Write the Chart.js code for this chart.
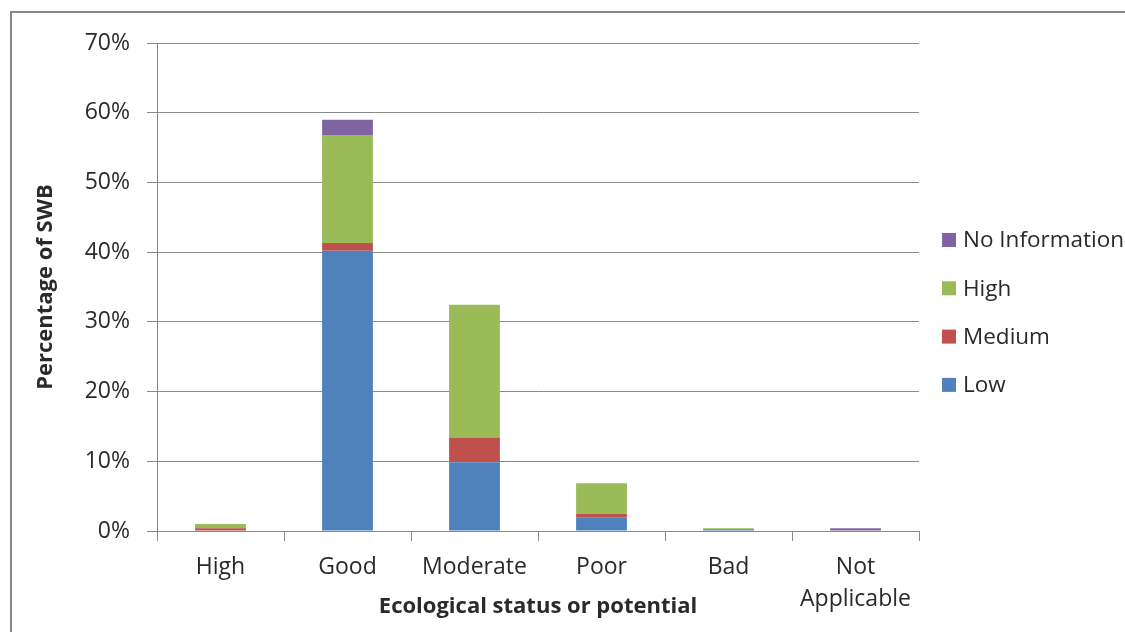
<!DOCTYPE html>
<html>
<head>
<meta charset="utf-8">
<script src="https://cdn.jsdelivr.net/npm/chart.js@4/dist/chart.umd.min.js"></script>
<style>
  html, body { margin: 0; padding: 0; background: #fff; overflow: hidden; }
  #wrap { position: relative; width: 1125px; height: 632px; overflow: hidden; }
  #frame { position: absolute; left: 10px; top: 11px; width: 1300px; height: 800px;
           border: 2px solid #888; box-sizing: border-box; }
  #c { position: absolute; left: 0; top: 0; }
</style>
</head>
<body>
<div id="wrap">
  <div id="frame"></div>
  <canvas id="c" width="1125" height="632"></canvas>
</div>
<script>
// Ecological status of surface water bodies, split by confidence level
const categories = ['High', 'Good', 'Moderate', 'Poor', 'Bad', ['Not', 'Applicable']];
const lowConf    = [0.0, 40.2, 9.85, 1.9, 0.25, 0.0];
const mediumConf = [0.4, 1.1, 3.55, 0.55, 0.0, 0.0];
const highConf   = [0.6, 15.5, 19.05, 4.4, 0.15, 0.0];
const noInfo     = [0.0, 2.2, 0.0, 0.0, 0.0, 0.4];
const yTicks     = [0, 10, 20, 30, 40, 50, 60, 70];

const FONT = '"Open Sans", Lato, "Liberation Sans", sans-serif';
const TEXT = '#2a2a2a';
const GRID = '#8a8a8a';

// Legend drawn at the right, listing series top-down in stack order
const sideLegend = {
  id: 'sideLegend',
  afterDraw(chart) {
    const ctx = chart.ctx;
    const ds = chart.data.datasets.slice().reverse();
    ctx.save();
    ctx.font = '22.5px ' + FONT;
    ctx.textBaseline = 'middle';
    ctx.textAlign = 'left';
    ds.forEach((d, i) => {
      const y = 240 + i * 48.3;
      ctx.fillStyle = d.backgroundColor;
      ctx.fillRect(942, y - 7, 14, 14);
      ctx.fillStyle = TEXT;
      ctx.fillText(d.label, 963, y + 1);
    });
    ctx.restore();
  }
};

new Chart(document.getElementById('c'), {
  type: 'bar',
  data: {
    labels: categories,
    datasets: [
      { label: 'Low', data: lowConf, backgroundColor: '#4F81BD' },
      { label: 'Medium', data: mediumConf, backgroundColor: '#C0504D' },
      { label: 'High', data: highConf, backgroundColor: '#9BBB59' },
      { label: 'No Information', data: noInfo, backgroundColor: '#8064A2' }
    ]
  },
  options: {
    responsive: false,
    animation: false,
    events: [],
    datasets: { bar: { categoryPercentage: 1.0, barPercentage: 0.4, borderWidth: 0 } },
    layout: { padding: { left: 22, right: 206, top: 43, bottom: 0 } },
    plugins: { legend: { display: false }, tooltip: { enabled: false } },
    scales: {
      x: {
        stacked: true,
        afterFit(scale) { scale.height = 101; },
        grid: { display: true, drawOnChartArea: false, drawTicks: true, tickLength: 10,
                color: GRID, lineWidth: 1, offset: true },
        border: { display: true, color: GRID, width: 1 },
        ticks: { color: TEXT, padding: 10, maxRotation: 0, autoSkip: false,
                 font: { family: FONT, size: 23, lineHeight: 1.4 } },
        title: { display: true, text: 'Ecological status or potential', color: TEXT,
                 font: { family: FONT, size: 22, weight: 'bold', lineHeight: 1.2 },
                 padding: { top: 0, bottom: 12 } }
      },
      y: {
        stacked: true,
        min: 0, max: 70,
        afterFit(scale) { scale.width = 157 - 22; },
        afterBuildTicks(scale) { scale.ticks = yTicks.map(v => ({ value: v })); },
        grid: { color: GRID, lineWidth: 1, drawTicks: true, tickLength: 10 },
        border: { display: true, color: GRID, width: 1 },
        ticks: { color: TEXT, padding: 17, font: { family: FONT, size: 23 },
                 callback: v => v + '%' },
        title: { display: true, text: 'Percentage of SWB', color: TEXT,
                 font: { family: FONT, size: 22, weight: 'bold', lineHeight: 1.2 },
                 padding: { top: 11, bottom: 0 } }
      }
    }
  },
  plugins: [sideLegend]
});
</script>
</body>
</html>
